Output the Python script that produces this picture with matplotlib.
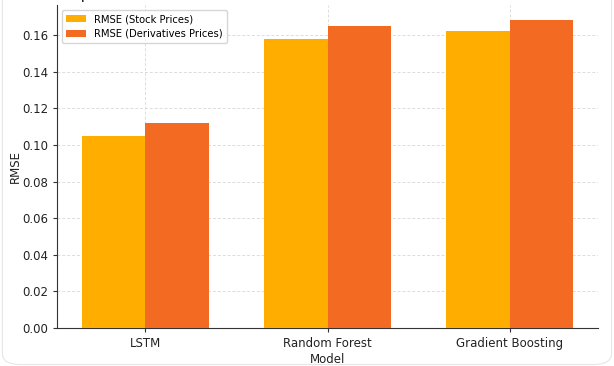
import matplotlib
matplotlib.use("Agg")
import matplotlib.pyplot as plt
import numpy as np
from matplotlib.patches import FancyBboxPatch

models = ["LSTM", "Random Forest", "Gradient Boosting"]
rmse_stock = [0.105, 0.158, 0.162]
rmse_deriv = [0.112, 0.165, 0.168]
series_labels = ["RMSE (Stock Prices)", "RMSE (Derivatives Prices)"]
title = "Comparison of RMSE for Stock Prices and Derivatives Prices Across Models"

fig = plt.figure(figsize=(6.14, 3.66), dpi=100)
ax = fig.add_axes([57/614, 38/366, (598-57)/614, (328-5)/366])

x = np.arange(len(models))
w = 0.35
ax.bar(x - w/2, rmse_stock, w, color="#FFAE00", label=series_labels[0], zorder=3)
ax.bar(x + w/2, rmse_deriv, w, color="#F36B22", label=series_labels[1], zorder=3)

ax.set_xticks(x)
ax.set_xticklabels(models, fontsize=8.5, color="#222222")
ax.tick_params(axis="y", labelsize=8.5, labelcolor="#222222")
ax.set_yticks(np.arange(0, 0.17, 0.02))
ax.set_xlabel("Model", fontsize=8.5, labelpad=2, color="#222222")
ax.set_ylabel("RMSE", fontsize=8.5, labelpad=0, color="#222222")
ax.grid(True, linestyle=(0, (3, 2)), color="#dcdcdc", linewidth=0.7, zorder=0)
ax.spines["top"].set_visible(False)
ax.spines["right"].set_visible(False)
for s in ["left", "bottom"]:
    ax.spines[s].set_color("#333333")
ax.tick_params(color="#333333", length=3)

leg = ax.legend(loc="upper left", fontsize=7.2, frameon=True, fancybox=True,
                borderpad=0.4, handlelength=2.0, bbox_to_anchor=(0.0, 1.0))
leg.get_frame().set_edgecolor("#cccccc")

fig.text(0.56, 1.002, title, ha="center", va="baseline", fontsize=11.5, color="#222222")

frame = FancyBboxPatch((0.004, 0.004), 0.992, 1.2, boxstyle="round,pad=0,rounding_size=0.03",
                       transform=fig.transFigure, fill=False, edgecolor="#e6e6e6", linewidth=0.8)
fig.patches.append(frame)

fig.savefig("out.png", dpi=100)
